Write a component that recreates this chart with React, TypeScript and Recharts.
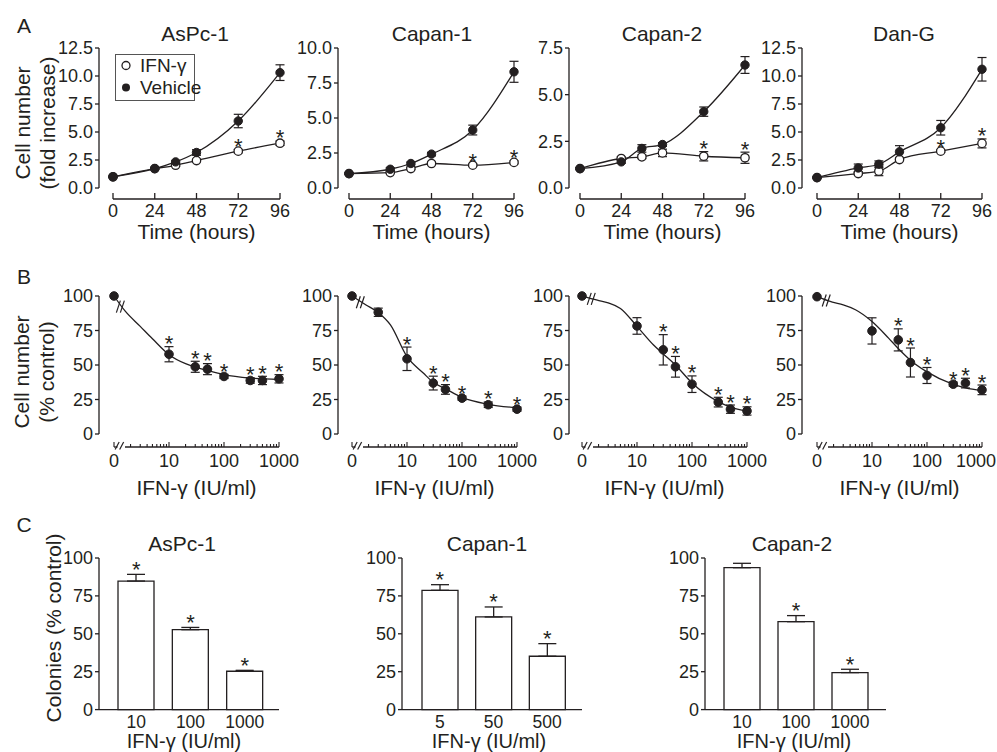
import React from 'react';
import {
  LineChart, Line, XAxis, YAxis, ErrorBar, ReferenceLine, ReferenceDot,
  ComposedChart, Bar,
} from 'recharts';

const FONT = '"Liberation Sans", Arial, Helvetica, sans-serif';
const INK = '#231f20';

// ---------- A: growth (fold increase) vs time ----------
const HOURS = [0, 24, 36, 48, 72, 96];
const HOUR_TICKS = [0, 24, 48, 72, 96];
const A_STARRED = [false, false, false, false, true, true];

const ASPC1_VEH = [1.0, 1.73, 2.33, 3.17, 5.98, 10.3];
const ASPC1_VEH_SD = [0.05, 0.08, 0.1, 0.25, 0.6, 0.7];
const ASPC1_IFN = [1.0, 1.73, 2.03, 2.45, 3.29, 4.0];
const ASPC1_IFN_SD = [0.05, 0.08, 0.1, 0.12, 0.15, 0.2];

const CAPAN1_VEH = [1.03, 1.34, 1.75, 2.42, 4.14, 8.3];
const CAPAN1_VEH_SD = [0.05, 0.1, 0.1, 0.12, 0.35, 0.75];
const CAPAN1_IFN = [1.03, 1.1, 1.39, 1.75, 1.63, 1.83];
const CAPAN1_IFN_SD = [0.05, 0.05, 0.08, 0.08, 0.08, 0.1];

const CAPAN2_VEH = [1.04, 1.4, 2.12, 2.33, 4.09, 6.59];
const CAPAN2_VEH_SD = [0.05, 0.08, 0.2, 0.1, 0.25, 0.45];
const CAPAN2_IFN = [1.04, 1.58, 1.67, 1.88, 1.7, 1.62];
const CAPAN2_IFN_SD = [0.05, 0.08, 0.1, 0.2, 0.25, 0.3];

const DANG_VEH = [0.93, 1.79, 2.12, 3.23, 5.38, 10.6];
const DANG_VEH_SD = [0.05, 0.35, 0.3, 0.55, 0.65, 1.05];
const DANG_IFN = [0.93, 1.29, 1.5, 2.54, 3.29, 3.98];
const DANG_IFN_SD = [0.05, 0.1, 0.4, 0.1, 0.1, 0.4];

// ---------- B: dose response (% control) ----------
const B_LABEL_DOSES = [0, 10, 100, 1000];
const B_MINOR_MULT = [2, 3, 4, 5, 6, 7, 8, 9];
const B_DECADES = [1, 10, 100];

const B_ASPC1_DOSE = [0, 10, 30, 50, 100, 300, 500, 1000];
const B_ASPC1_PCT = [100, 57.8, 48.7, 47, 41.7, 38.8, 38.8, 40];
const B_ASPC1_SD = [0, 5.5, 4, 4, 1.5, 2, 3, 3];
const B_ASPC1_STAR = [0, 1, 1, 1, 1, 1, 1, 1];
const B_ASPC1_FIT_DOSE = [0, 1.6, 3, 5, 10, 20, 30, 50, 100, 300, 1000];
const B_ASPC1_FIT = [100, 89, 78, 69, 57.5, 51, 48.5, 46, 43, 40.5, 39.5];

const B_CAPAN1_DOSE = [0, 3, 10, 30, 50, 100, 300, 1000];
const B_CAPAN1_PCT = [100, 88.2, 54.5, 36.9, 32.3, 26, 21.2, 18];
const B_CAPAN1_SD = [0, 3, 8.5, 5, 3.5, 1.5, 2, 1.5];
const B_CAPAN1_STAR = [0, 0, 1, 1, 1, 1, 1, 1];
const B_CAPAN1_FIT_DOSE = [0, 1.8, 3, 5, 10, 20, 30, 50, 100, 300, 1000];
const B_CAPAN1_FIT = [100, 93.5, 88, 79, 56, 44, 37.5, 32.8, 26.5, 21.5, 19];

const B_CAPAN2_DOSE = [0, 10, 30, 50, 100, 300, 500, 1000];
const B_CAPAN2_PCT = [100, 78.3, 61, 48.7, 36.1, 23.1, 18, 16.7];
const B_CAPAN2_SD = [0, 6, 11, 7.5, 6, 3.5, 3, 3];
const B_CAPAN2_STAR = [0, 0, 1, 1, 1, 1, 1, 1];
const B_CAPAN2_FIT_DOSE = [0, 1.9, 3, 5, 10, 20, 30, 50, 100, 300, 500, 1000];
const B_CAPAN2_FIT = [100, 97, 95, 91, 78, 64.5, 58, 50, 37, 23.5, 19.5, 16.5];

const B_DANG_DOSE = [0, 10, 30, 50, 100, 300, 500, 1000];
const B_DANG_PCT = [99.5, 74.7, 68.2, 51.8, 42.4, 36.1, 36.9, 32];
const B_DANG_SD = [0, 9.5, 8, 10.5, 5.8, 1.5, 3.5, 3.5];
const B_DANG_STAR = [0, 0, 1, 1, 1, 1, 1, 1];
const B_DANG_FIT_DOSE = [0, 1.9, 3, 5, 10, 20, 30, 50, 100, 300, 500, 1000];
const B_DANG_FIT = [99.5, 95.5, 93.5, 90, 81.5, 69.5, 62, 53.5, 45, 36, 33.5, 31.5];

// ---------- C: colonies (% control) ----------
const C_ASPC1_DOSE = ['10', '100', '1000'];
const C_ASPC1_PCT = [84.8, 52.7, 25.3];
const C_ASPC1_SD = [4.4, 1.5, 0.6];
const C_ASPC1_STAR = [1, 1, 1];

const C_CAPAN1_DOSE = ['5', '50', '500'];
const C_CAPAN1_PCT = [78.7, 61.1, 35.2];
const C_CAPAN1_SD = [3.7, 6.6, 8.3];
const C_CAPAN1_STAR = [1, 1, 1];

const C_CAPAN2_DOSE = ['10', '100', '1000'];
const C_CAPAN2_PCT = [93.6, 58, 24.4];
const C_CAPAN2_SD = [2.9, 4, 2.2];
const C_CAPAN2_STAR = [0, 1, 1];

const YW = 52;
const MT = 14;
const MR = 26;
const XH = 44;
const TICK_FS = 18;
const LABEL_FS = 21;

const doseToPos = (d: number) => (d === 0 ? 0 : Math.log10(d));

const B_TICKS = [
  ...B_LABEL_DOSES.map((d, i) => i),
  ...B_DECADES.flatMap((dec) => B_MINOR_MULT.map((m) => Math.log10(m * dec))),
];

type Frame = { axisX: number; x0: number; x1: number; top: number; y0: number; axisY: number };

function frameBox(f: Frame) {
  return {
    left: f.axisX - YW,
    top: f.top - MT,
    width: YW + (f.x1 - f.axisX) + MR,
    height: MT + (f.axisY - f.top) + XH,
  };
}

function domains(f: Frame, xFirst: number, xLast: number, yTop: number) {
  const xMin = xFirst - ((f.x0 - f.axisX) * (xLast - xFirst)) / (f.x1 - f.x0);
  const yMin = -((f.axisY - f.y0) * yTop) / (f.y0 - f.top);
  return { xMin, yMin };
}

const starDot = (gap: number) => (p: any) => {
  const { cx, cy, index, payload } = p;
  if (cx == null || cy == null || payload == null || payload.star == null) return <g key={`st${index}`} />;
  return (
    <text key={`st${index}`} x={cx} y={cy - gap + 12.5} textAnchor="middle" fontSize={22} fill={INK} fontFamily={FONT}>
      *
    </text>
  );
};

const HourTick = (props: any) => {
  const { x, y, payload } = props;
  return (
    <g>
      <line x1={x} x2={x} y1={y} y2={y - 6} stroke={INK} strokeWidth={1.3} />
      <text x={x} y={y + 17.5} textAnchor="middle" fontSize={TICK_FS} fill={INK} fontFamily={FONT}>
        {payload.value}
      </text>
    </g>
  );
};

const makeLogTick = (lastShift: number) => (props: any) => {
  const { x, y, payload } = props;
  const v = payload.value;
  const major = Math.abs(v - Math.round(v)) < 1e-6;
  const idx = Math.round(v);
  const lx = idx === B_LABEL_DOSES.length - 1 ? x + lastShift : x;
  return (
    <g>
      <line x1={x} x2={x} y1={y} y2={y - (major ? 5 : 3)} stroke={INK} strokeWidth={1.1} />
      {major && (
        <text x={lx} y={y + 19.5} textAnchor="middle" fontSize={TICK_FS} fill={INK} fontFamily={FONT}>
          {B_LABEL_DOSES[idx]}
        </text>
      )}
    </g>
  );
};

const CatTick = (props: any) => {
  const { x, y, payload } = props;
  return (
    <text x={x} y={y + 18.5} textAnchor="middle" fontSize={17.5} fill={INK} fontFamily={FONT}>
      {payload.value}
    </text>
  );
};

const AxisBreak = (props: any) => {
  const { cx, cy } = props;
  return (
    <g stroke={INK} strokeWidth={1.2}>
      <line x1={cx - 6} y1={cy + 2.5} x2={cx - 2} y2={cy - 5} />
      <line x1={cx - 1.5} y1={cy + 2.5} x2={cx + 2.5} y2={cy - 5} />
    </g>
  );
};

const CurveBreak = (props: any) => {
  const { cx, cy } = props;
  return (
    <g stroke={INK} strokeWidth={1.2}>
      <line x1={cx - 5.5} y1={cy + 6} x2={cx - 1.5} y2={cy - 6} />
      <line x1={cx - 1.5} y1={cy + 6} x2={cx + 2.5} y2={cy - 6} />
    </g>
  );
};

const Txt = ({ x, y, children, size = LABEL_FS, rotate = false, lh = 25 }: any) => (
  <div
    style={{
      position: 'absolute',
      left: x,
      top: y,
      transform: `translate(-50%, -50%)${rotate ? ' rotate(-90deg)' : ''}`,
      fontSize: size,
      lineHeight: `${lh}px`,
      whiteSpace: 'nowrap',
      textAlign: 'center',
      color: INK,
      fontFamily: FONT,
    }}
  >
    {children}
  </div>
);

const ROW_A = [
  { title: 'AsPc-1', top: 12.5, yTicks: [0, 2.5, 5, 7.5, 10, 12.5], veh: ASPC1_VEH, vehSd: ASPC1_VEH_SD, ifn: ASPC1_IFN, ifnSd: ASPC1_IFN_SD, frame: [99, 113, 280], titleX: 195 },
  { title: 'Capan-1', top: 10, yTicks: [0, 2.5, 5, 7.5, 10], veh: CAPAN1_VEH, vehSd: CAPAN1_VEH_SD, ifn: CAPAN1_IFN, ifnSd: CAPAN1_IFN_SD, frame: [338, 349, 514], titleX: 432 },
  { title: 'Capan-2', top: 7.5, yTicks: [0, 2.5, 5, 7.5], veh: CAPAN2_VEH, vehSd: CAPAN2_VEH_SD, ifn: CAPAN2_IFN, ifnSd: CAPAN2_IFN_SD, frame: [569, 580, 745], titleX: 662 },
  { title: 'Dan-G', top: 12.5, yTicks: [0, 2.5, 5, 7.5, 10, 12.5], veh: DANG_VEH, vehSd: DANG_VEH_SD, ifn: DANG_IFN, ifnSd: DANG_IFN_SD, frame: [802, 817, 982], titleX: 904 },
];

const ROW_B = [
  { dose: B_ASPC1_DOSE, pct: B_ASPC1_PCT, sd: B_ASPC1_SD, star: B_ASPC1_STAR, fitDose: B_ASPC1_FIT_DOSE, fit: B_ASPC1_FIT, frame: [99, 114, 279], lastShift: 0 },
  { dose: B_CAPAN1_DOSE, pct: B_CAPAN1_PCT, sd: B_CAPAN1_SD, star: B_CAPAN1_STAR, fitDose: B_CAPAN1_FIT_DOSE, fit: B_CAPAN1_FIT, frame: [338, 352, 517], lastShift: 0 },
  { dose: B_CAPAN2_DOSE, pct: B_CAPAN2_PCT, sd: B_CAPAN2_SD, star: B_CAPAN2_STAR, fitDose: B_CAPAN2_FIT_DOSE, fit: B_CAPAN2_FIT, frame: [569, 582, 747], lastShift: 0 },
  { dose: B_DANG_DOSE, pct: B_DANG_PCT, sd: B_DANG_SD, star: B_DANG_STAR, fitDose: B_DANG_FIT_DOSE, fit: B_DANG_FIT, frame: [802, 817, 982], lastShift: -6 },
];

const ROW_C = [
  { title: 'AsPc-1', dose: C_ASPC1_DOSE, pct: C_ASPC1_PCT, sd: C_ASPC1_SD, star: C_ASPC1_STAR, frame: [99, 279], pad: [10, 7], titleX: 182 },
  { title: 'Capan-1', dose: C_CAPAN1_DOSE, pct: C_CAPAN1_PCT, sd: C_CAPAN1_SD, star: C_CAPAN1_STAR, frame: [402, 582], pad: [11, 8], titleX: 487 },
  { title: 'Capan-2', dose: C_CAPAN2_DOSE, pct: C_CAPAN2_PCT, sd: C_CAPAN2_SD, star: C_CAPAN2_STAR, frame: [705, 886], pad: [10, 9], titleX: 792 },
];

const yTickStyle = { fill: INK, fontSize: TICK_FS, fontFamily: FONT };

function GrowthPanel({ p }: any) {
  const f: Frame = { axisX: p.frame[0], x0: p.frame[1], x1: p.frame[2], top: 48, y0: 188, axisY: 199 };
  const b = frameBox(f);
  const { xMin, yMin } = domains(f, 0, 96, p.top);
  const data = HOURS.map((t, i) => ({
    t,
    veh: p.veh[i],
    vehSd: p.vehSd[i],
    ifn: p.ifn[i],
    ifnSd: p.ifnSd[i],
    star: A_STARRED[i] ? p.ifn[i] + p.ifnSd[i] : null,
  }));
  return (
    <div style={{ position: 'absolute', left: b.left, top: b.top }}>
      <LineChart width={b.width} height={b.height} data={data} margin={{ top: MT, right: MR, left: 0, bottom: 0 }}>
        <XAxis dataKey="t" type="number" domain={[xMin, 96]} ticks={HOUR_TICKS} interval={0} axisLine={false}
          tickLine={false} tickSize={0} tickMargin={0} height={XH} tick={(props: any) => <HourTick {...props} />} />
        <YAxis type="number" domain={[yMin, p.top]} ticks={p.yTicks} interval={0} axisLine={false} width={YW}
          tickSize={4} tickMargin={2} tickLine={{ stroke: INK, strokeWidth: 1.3 }} tick={yTickStyle}
          tickFormatter={(v: number) => v.toFixed(1)} />
        <ReferenceLine segment={[{ x: xMin, y: 0 }, { x: xMin, y: p.top }]} stroke={INK} strokeWidth={1.3} ifOverflow="visible" />
        <ReferenceLine segment={[{ x: 0, y: yMin }, { x: 96, y: yMin }]} stroke={INK} strokeWidth={1.3} ifOverflow="visible" />
        <Line dataKey="ifn" type="monotone" stroke={INK} strokeWidth={1.3} isAnimationActive={false} activeDot={false}
          dot={{ r: 4.2, fill: '#fff', stroke: INK, strokeWidth: 1.3 }}>
          <ErrorBar dataKey="ifnSd" width={4.5} stroke={INK} strokeWidth={1.2} direction="y" />
        </Line>
        <Line dataKey="veh" type="monotone" stroke={INK} strokeWidth={1.3} isAnimationActive={false} activeDot={false}
          dot={{ r: 4.2, fill: INK, stroke: INK, strokeWidth: 1 }}>
          <ErrorBar dataKey="vehSd" width={4.5} stroke={INK} strokeWidth={1.2} direction="y" />
        </Line>
        <Line dataKey="star" stroke="none" isAnimationActive={false} activeDot={false} dot={starDot(8)} />
      </LineChart>
    </div>
  );
}

function DosePanel({ p }: any) {
  const f: Frame = { axisX: p.frame[0], x0: p.frame[1], x1: p.frame[2], top: 296, y0: 434, axisY: 447 };
  const b = frameBox(f);
  const { xMin, yMin } = domains(f, 0, 3, 100);
  const pts = p.dose.map((d: number, i: number) => ({
    pos: doseToPos(d),
    v: p.pct[i],
    sd: p.sd[i],
    star: p.star[i] ? p.pct[i] + p.sd[i] : null,
  }));
  const fit = p.fitDose.map((d: number, i: number) => ({ pos: doseToPos(d), v: p.fit[i] }));
  const brkPos = fit[0].pos + 0.7 * (fit[1].pos - fit[0].pos);
  const brkV = fit[0].v + 0.7 * (fit[1].v - fit[0].v);
  const LogTick = makeLogTick(p.lastShift);
  return (
    <div style={{ position: 'absolute', left: b.left, top: b.top }}>
      <LineChart width={b.width} height={b.height} margin={{ top: MT, right: MR, left: 0, bottom: 0 }}>
        <XAxis dataKey="pos" type="number" domain={[xMin, 3]} ticks={B_TICKS} interval={0} axisLine={false}
          tickLine={false} tickSize={0} tickMargin={0} height={XH} tick={(props: any) => LogTick(props)} />
        <YAxis type="number" domain={[yMin, 100]} ticks={[0, 25, 50, 75, 100]} interval={0} axisLine={false} width={YW}
          tickSize={4} tickMargin={2} tickLine={{ stroke: INK, strokeWidth: 1.3 }} tick={yTickStyle} />
        <ReferenceLine segment={[{ x: xMin, y: 0 }, { x: xMin, y: 100 }]} stroke={INK} strokeWidth={1.3} ifOverflow="visible" />
        <ReferenceLine segment={[{ x: 0, y: yMin }, { x: 0.065, y: yMin }]} stroke={INK} strokeWidth={1.3} ifOverflow="visible" />
        <ReferenceLine segment={[{ x: 0.2, y: yMin }, { x: 3, y: yMin }]} stroke={INK} strokeWidth={1.3} ifOverflow="visible" />
        <ReferenceDot x={0.13} y={yMin} r={0} ifOverflow="visible" shape={(s: any) => <AxisBreak {...s} />} />
        <Line data={fit} dataKey="v" type="monotone" stroke={INK} strokeWidth={1.3} dot={false} activeDot={false} isAnimationActive={false} />
        <ReferenceDot x={brkPos} y={brkV} r={0} ifOverflow="visible" shape={(s: any) => <CurveBreak {...s} />} />
        <Line data={pts} dataKey="v" stroke="none" isAnimationActive={false} activeDot={false}
          dot={{ r: 4.3, fill: INK, stroke: INK, strokeWidth: 1 }}>
          <ErrorBar dataKey="sd" width={4.5} stroke={INK} strokeWidth={1.2} direction="y" />
        </Line>
        <Line data={pts} dataKey="star" stroke="none" isAnimationActive={false} activeDot={false} dot={starDot(8)} />
      </LineChart>
    </div>
  );
}

function ColonyPanel({ p }: any) {
  const top = 557.7;
  const bottom = 709.3;
  const left = p.frame[0] - YW;
  const width = YW + p.frame[1] - p.frame[0] + MR;
  const height = MT + bottom - top + XH;
  const data = p.dose.map((d: string, i: number) => ({
    dose: d,
    v: p.pct[i],
    err: [0, p.sd[i]],
    star: p.star[i] ? p.pct[i] + p.sd[i] : null,
  }));
  return (
    <div style={{ position: 'absolute', left, top: top - MT }}>
      <ComposedChart width={width} height={height} data={data} margin={{ top: MT, right: MR, left: 0, bottom: 0 }}>
        <XAxis dataKey="dose" type="category" padding={{ left: p.pad[0], right: p.pad[1] }} interval={0}
          axisLine={{ stroke: INK, strokeWidth: 1.3 }} tickLine={false} tickSize={0} tickMargin={0} height={XH}
          tick={(props: any) => <CatTick {...props} />} />
        <YAxis type="number" domain={[0, 100]} ticks={[0, 25, 50, 75, 100]} interval={0} width={YW}
          axisLine={{ stroke: INK, strokeWidth: 1.3 }} tickSize={4} tickMargin={2}
          tickLine={{ stroke: INK, strokeWidth: 1.3 }} tick={yTickStyle} />
        <Bar dataKey="v" fill="#fff" stroke={INK} strokeWidth={1.3} barSize={36} isAnimationActive={false}>
          <ErrorBar dataKey="err" width={9} stroke={INK} strokeWidth={1.3} direction="y" />
        </Bar>
        <Line dataKey="star" stroke="none" isAnimationActive={false} activeDot={false} dot={starDot(10)} />
      </ComposedChart>
    </div>
  );
}

export default function App() {
  return (
    <div style={{ position: 'absolute', left: 0, top: 0, width: 997, height: 752, background: '#fff', overflow: 'hidden', fontFamily: FONT }}>
      <Txt x={24} y={25}>A</Txt>
      <Txt x={24} y={276}>B</Txt>
      <Txt x={24} y={524}>C</Txt>

      {ROW_A.map((p) => (
        <React.Fragment key={p.title}>
          <GrowthPanel p={p} />
          <Txt x={p.titleX} y={33}>{p.title}</Txt>
          <Txt x={(p.frame[1] + p.frame[2]) / 2} y={231}>Time (hours)</Txt>
        </React.Fragment>
      ))}
      <Txt x={34.5} y={123} rotate>
        Cell number<br />(fold increase)
      </Txt>

      <div style={{ position: 'absolute', left: 115, top: 54, width: 80, height: 47, border: '1px solid #555', boxSizing: 'border-box', background: '#fff' }}>
        <svg width={12} height={45} style={{ position: 'absolute', left: 4, top: 0 }}>
          <circle cx={6} cy={10.5} r={4} fill="#fff" stroke={INK} strokeWidth={1.3} />
          <circle cx={6} cy={32.5} r={4} fill={INK} />
        </svg>
        <div style={{ position: 'absolute', left: 24, top: 0, fontSize: 19, lineHeight: '22px', color: INK, whiteSpace: 'nowrap' }}>
          IFN-γ<br />Vehicle
        </div>
      </div>

      {ROW_B.map((p, i) => (
        <React.Fragment key={`b${i}`}>
          <DosePanel p={p} />
          <Txt x={(p.frame[1] + p.frame[2]) / 2} y={487}>IFN-γ (IU/ml)</Txt>
        </React.Fragment>
      ))}
      <Txt x={34} y={372} rotate>
        Cell number<br />(% control)
      </Txt>

      {ROW_C.map((p) => (
        <React.Fragment key={`c${p.title}`}>
          <ColonyPanel p={p} />
          <Txt x={p.titleX} y={543}>{p.title}</Txt>
          <Txt x={p.titleX + 2} y={741} size={20} lh={20}>IFN-γ (IU/ml)</Txt>
        </React.Fragment>
      ))}
      <Txt x={53} y={628} rotate>Colonies (% control)</Txt>
    </div>
  );
}
